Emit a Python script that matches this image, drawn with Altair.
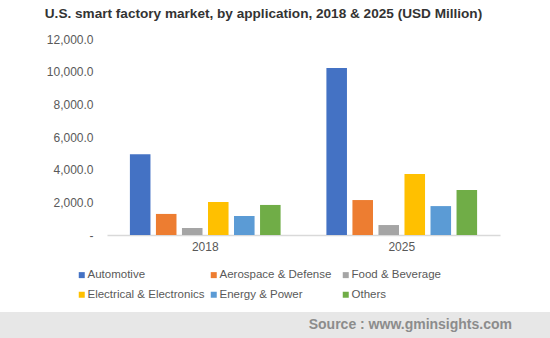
import altair as alt
import pandas as pd

years = ["2018", "2025"]
applications = ["Automotive", "Aerospace & Defense", "Food & Beverage",
                "Electrical & Electronics", "Energy & Power", "Others"]
values_2018 = [4950, 1290, 430, 2020, 1160, 1840]
values_2025 = [10220, 2140, 610, 3730, 1770, 2750]
colors = ["#4472C4", "#ED7D31", "#A5A5A5", "#FFC000", "#5B9BD5", "#70AD47"]
y_ticks = [0, 2000, 4000, 6000, 8000, 10000, 12000]

rows = []
for app, v in zip(applications, values_2018):
    rows.append({"year": "2018", "app": app, "value": v})
for app, v in zip(applications, values_2025):
    rows.append({"year": "2025", "app": app, "value": v})
df = pd.DataFrame(rows)

FONT = "Liberation Sans"

bars = alt.Chart(df).mark_bar().encode(
    x=alt.X("year:N", sort=years, title=None,
            scale=alt.Scale(paddingInner=0, paddingOuter=0),
            axis=alt.Axis(labelAngle=0, ticks=False, domainColor="#D9D9D9",
                          domainWidth=1.5, labelColor="#595959", labelFontSize=12,
                          labelFont=FONT, labelPadding=6)),
    xOffset=alt.XOffset("app:N", sort=applications,
                        scale=alt.Scale(paddingInner=0.21, paddingOuter=0.88)),
    y=alt.Y("value:Q", title=None,
            scale=alt.Scale(domain=[0, 12000], nice=False),
            axis=alt.Axis(values=y_ticks, grid=False, domain=False, ticks=False,
                          labelExpr="datum.value == 0 ? '-' : format(datum.value, ',.1f')",
                          labelColor="#595959", labelFontSize=12, labelFont=FONT,
                          labelPadding=14)),
    color=alt.Color("app:N", sort=applications, title=None,
                    scale=alt.Scale(domain=applications, range=colors),
                    legend=alt.Legend(orient="none", legendX=-31, legendY=230,
                                      columns=3, direction="horizontal",
                                      symbolType="square", symbolSize=36,
                                      symbolStrokeWidth=0, labelFontSize=11.5,
                                      labelFont=FONT, labelColor="#595959",
                                      labelOffset=0, columnPadding=3,
                                      rowPadding=7, gridAlign="all",
                                      labelLimit=300)),
)

band = alt.Chart(pd.DataFrame({"a": [0]})).mark_rect(color="#E7E7E7").encode(
    x=alt.value(-107), x2=alt.value(443), y=alt.value(273), y2=alt.value(299)
)
source = alt.Chart(pd.DataFrame({"t": ["Source : www.gminsights.com"]})).mark_text(
    align="right", baseline="alphabetic", font=FONT, fontWeight="bold",
    fontSize=14, color="#8C8C8C"
).encode(x=alt.value(405), y=alt.value(290), text="t:N")

chart = alt.layer(bars, band, source).properties(
    width=393, height=196,
    background="white",
    padding={"left": 107, "top": 39, "right": 50, "bottom": 103},
    autosize=alt.AutoSizeParams(type="none"),
    title=alt.TitleParams(
        "U.S. smart factory market, by application, 2018 & 2025 (USD Million)",
        font=FONT, fontSize=13.6, fontWeight="bold", color="#333333",
        anchor="middle", dx=-40, offset=12
    ),
).configure_view(strokeWidth=0, stroke="transparent")

chart.save("out.html", embed_options={"renderer": "svg", "actions": False})
